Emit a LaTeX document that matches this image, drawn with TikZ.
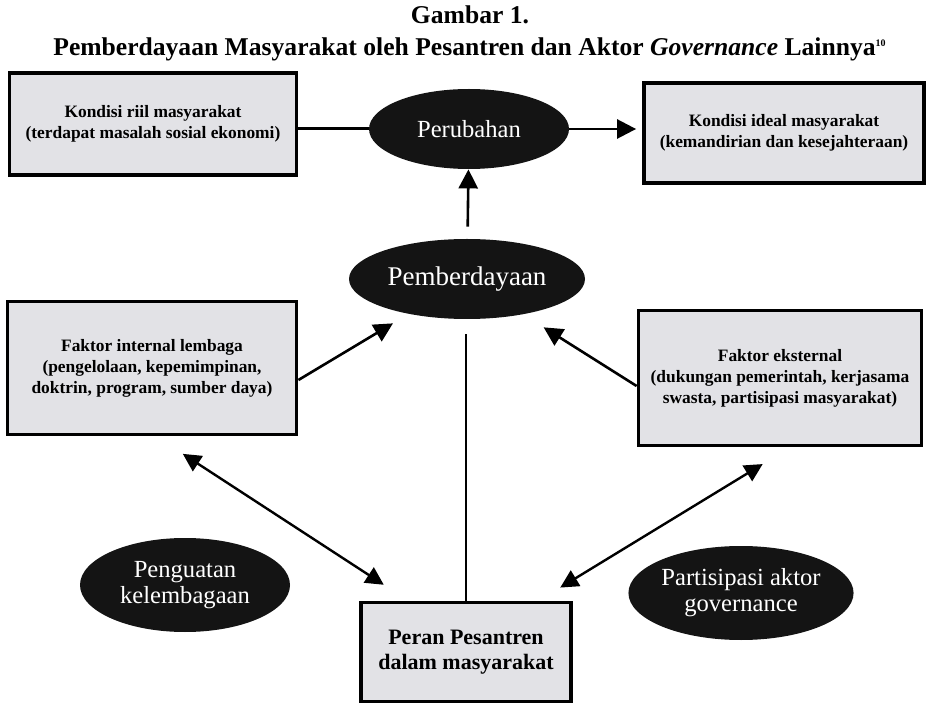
\documentclass[tikz,border=0pt]{standalone}
\usepackage{fontspec}
\setmainfont{Liberation Serif}
\usetikzlibrary{shapes.geometric,arrows.meta}
\definecolor{boxgray}{HTML}{E2E2E6}
\begin{document}
\begin{tikzpicture}[x=0.5pt,y=-0.5pt,
    box/.style={draw,line width=1.9pt,fill=boxgray,align=center,inner sep=0pt,
      font=\bfseries\fontsize{8.7}{10.5}\selectfont},
    oval/.style={ellipse,fill=black!92,text=white,align=center,inner sep=0pt,
      font=\fontsize{12.3}{13}\selectfont},
    arr/.style={line width=1.3pt,-{Triangle[length=9.5pt,width=9.5pt]}},
    dbl/.style={line width=1.2pt,{Triangle[length=9pt,width=9pt]}-{Triangle[length=9pt,width=9pt]}}]
  \useasboundingbox (0,0) rectangle (926,705);
  \node[font=\bfseries\fontsize{12.8}{16}\selectfont,align=center] (T) at (470,33)
    {Gambar 1.\\Pemberdayaan Masyarakat oleh Pesantren dan Aktor \textit{Governance} Lainnya\textsuperscript{\fontsize{5}{5}\selectfont 10}};
  \node[box,minimum width=143.5pt,minimum height=51pt] (KR) at (153,124)
    {Kondisi riil masyarakat\\(terdapat masalah sosial ekonomi)};
  \node[box,minimum width=140pt,minimum height=50pt] (KI) at (784,133)
    {Kondisi ideal masyarakat\\(kemandirian dan kesejahteraan)};
  \node[oval,minimum width=100pt,minimum height=40pt] (P) at (469,129) {Perubahan};
  \node[oval,minimum width=118pt,minimum height=40pt,font=\fontsize{13.5}{15}\selectfont] (B) at (467,279) {Pemberdayaan};
  \node[box,minimum width=144.5pt,minimum height=66.5pt] (FI) at (152,368)
    {Faktor internal lembaga\\(pengelolaan, kepemimpinan,\\doktrin, program, sumber daya)};
  \node[box,minimum width=141.5pt,minimum height=67.5pt] (FE) at (780,378)
    {Faktor eksternal\\(dukungan pemerintah, kerjasama\\swasta, partisipasi masyarakat)};
  \node[oval,minimum width=105pt,minimum height=47pt] (PK) at (185,585) {Penguatan\\kelembagaan};
  \node[oval,minimum width=106.5pt,minimum height=47pt] (PA) at (741,593) {Partisipasi aktor\\governance};
  \node[box,minimum width=105pt,minimum height=49.5pt,font=\bfseries\fontsize{11}{12.5}\selectfont] (PP) at (466,652)
    {Peran Pesantren\\dalam masyarakat};
  \draw[line width=1.5pt] (P.west -| KR.east) -- (P.west);
  \draw[arr,shorten >=3pt] (P.east) -- (P.east -| KI.west);
  \draw[arr,shorten <=6pt] (B) -- (P);
  \draw[arr,shorten >=9pt] ([yshift=-6pt]FI.east) -- (B);
  \draw[arr,shorten >=12pt] ([yshift=-4pt]FE.west) -- (B);
  \draw[line width=1pt,shorten >=7.5pt] (PP.north) -- (PP.north |- B.south);
  \draw[dbl,shorten <=16pt,shorten >=14.5pt] ([xshift=2pt]FI.south) -- ([xshift=24.5pt]PP.north west);
  \draw[dbl,shorten <=16pt,shorten >=12.5pt] ([xshift=5pt]FE.south) -- ([xshift=-17pt]PP.north east);
\end{tikzpicture}
\end{document}
